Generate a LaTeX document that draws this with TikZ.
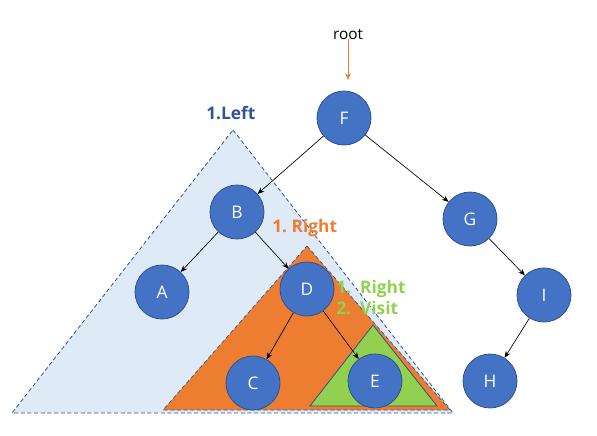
\documentclass[tikz,border=0pt]{standalone}
\usepackage{fontspec}
\setmainfont{Open Sans}
\usetikzlibrary{arrows.meta}
\definecolor{nodefill}{HTML}{4472C4}
\definecolor{nodeline}{HTML}{2F528F}
\definecolor{lightblue}{HTML}{DEEBF7}
\definecolor{orangec}{HTML}{ED7D31}
\definecolor{greenc}{HTML}{92D050}
\definecolor{darkblue}{HTML}{2F5597}
\begin{document}
\begin{tikzpicture}[x=0.75pt,y=-0.75pt,
  tnode/.style={circle,fill=nodefill,draw=nodeline,line width=0.6pt,minimum size=40.5pt,inner sep=0pt,text=white,font=\fontsize{13}{15}\selectfont},
  edge/.style={-{Stealth[length=5pt,width=4pt]},line width=0.5pt,black},
  lbl/.style={font=\bfseries\fontsize{13}{15.75}\selectfont,inner sep=0pt}]
\useasboundingbox (0,0) rectangle (597,436);
% triangles
\draw[fill=lightblue,draw=darkblue,dashed,line width=0.6pt,dash pattern=on 3pt off 2pt] (233,130) -- (453,413) -- (12,413) -- cycle;
\draw[fill=orangec,draw=darkblue,dashed,line width=0.5pt,dash pattern=on 3pt off 2pt] (307,246) -- (450,410) -- (163,410) -- cycle;
\draw[fill=greenc,draw=nodeline,line width=0.6pt] (373,325) -- (437,406) -- (310,406) -- cycle;
% labels
\node[lbl,text=darkblue,anchor=west] (lleft) at (206,113) {1.Left};
\node[lbl,text=orangec,anchor=west] (lright) at (272,228) {1.\ Right};
\node[lbl,text=greenc,anchor=west,align=left] (lgreen) at (336,298) {1.\ \ Right\\2.\ \ Visit};
\node[font=\fontsize{11.5}{13}\selectfont] (root) at (348,35) {root};
\coordinate (rootend) at (348,80);
% nodes
\node[tnode] (F) at (344,118) {F};
\node[tnode] (B) at (237,212) {B};
\node[tnode] (G) at (470,219) {G};
\node[tnode] (A) at (162,292) {A};
\node[tnode] (D) at (307,289) {D};
\node[tnode] (I) at (544,295) {I};
\node[tnode] (C) at (253,383) {C};
\node[tnode] (E) at (375,381) {E};
\node[tnode] (H) at (490,381) {H};
% edges
\draw[-{Stealth[length=5pt,width=4pt]},orangec,line width=0.6pt] (root.south) ++(0,-6) -- (rootend);
\draw[edge] (F) -- (B);
\draw[edge] (F) -- (G);
\draw[edge] (B) -- (A);
\draw[edge] (B) -- (D);
\draw[edge] (D) -- (C);
\draw[edge] (D) -- (E);
\draw[edge] (G) -- (I);
\draw[edge] (I) -- (H);
\end{tikzpicture}
\end{document}
